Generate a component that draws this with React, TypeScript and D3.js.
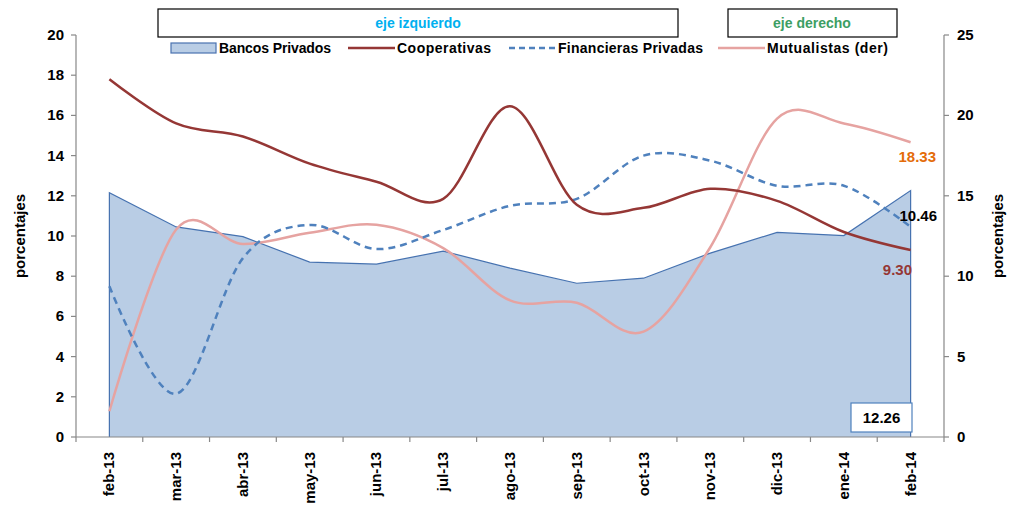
import React from "react";
import * as d3 from "d3";

const categories = ["feb-13","mar-13","abr-13","may-13","jun-13","jul-13","ago-13","sep-13","oct-13","nov-13","dic-13","ene-14","feb-14"];
const bancos = [12.15,10.45,9.97,8.7,8.6,9.25,8.4,7.65,7.9,9.15,10.18,10.02,12.26];
const cooperativas = [17.8,15.6,14.95,13.6,12.7,11.85,16.45,11.55,11.4,12.35,11.75,10.2,9.30];
const financieras = [7.5,2.15,8.9,10.55,9.35,10.3,11.5,11.85,14.0,13.75,12.5,12.5,10.46];
const mutualistas = [1.6,12.9,12.0,12.7,13.2,11.75,8.5,8.35,6.55,11.8,19.8,19.5,18.33];
const leftTicks = [0,2,4,6,8,10,12,14,16,18,20];
const rightTicks = [0,5,10,15,20,25];

const FONT = "'Liberation Sans', Arial, sans-serif";

export default function App() {
  const W = 1009, H = 511;
  const x0 = 76, x1 = 944, top = 35, bottom = 437;
  const x = d3.scaleBand().domain(categories).range([x0, x1]);
  const cx = (i: number) => (x(categories[i]) as number) + x.bandwidth() / 2;
  const yL = d3.scaleLinear().domain([0, 20]).range([bottom, top]);
  const yR = d3.scaleLinear().domain([0, 25]).range([bottom, top]);

  const area = d3.area<number>().x((_, i) => cx(i)).y0(yL(0)).y1((d) => yL(d));
  const areaTop = d3.line<number>().x((_, i) => cx(i)).y((d) => yL(d));
  const lineL = d3.line<number>().x((_, i) => cx(i)).y((d) => yL(d)).curve(d3.curveCardinal.tension(0));
  const lineR = d3.line<number>().x((_, i) => cx(i)).y((d) => yR(d)).curve(d3.curveCardinal.tension(0));

  const n = categories.length - 1;
  const areaPath = area(bancos) as string;
  const outline = `M${cx(0)},${yL(0)}L${(areaTop(bancos) as string).slice(1)}L${cx(n)},${yL(0)}`;

  const boundaries = d3.range(categories.length + 1).map((i) => x0 + i * x.bandwidth());

  return (
    <svg width={W} height={H} style={{ position: "absolute", left: 0, top: 0, background: "#fff" }} fontFamily={FONT}>
      {/* header boxes */}
      <rect x={158} y={9} width={520} height={28} fill="#fff" stroke="#000" strokeWidth={1.2} />
      <text x={418} y={28} textAnchor="middle" fontSize={14} fontWeight="bold" fill="#00b0f0">eje izquierdo</text>
      <rect x={728} y={9} width={169} height={28} fill="#fff" stroke="#000" strokeWidth={1.2} />
      <text x={812} y={28} textAnchor="middle" fontSize={14} fontWeight="bold" fill="#3c9e63">eje derecho</text>

      {/* legend */}
      <g fontSize={14} fontWeight="bold" fill="#000">
        <rect x={171} y={43} width={45} height={10} fill="#b9cde5" stroke="#4a72b0" strokeWidth={1.2} />
        <text x={219} y={53} textLength={112}>Bancos Privados</text>
        <line x1={348} x2={395} y1={48} y2={48} stroke="#953735" strokeWidth={2.5} />
        <text x={397} y={53} textLength={94}>Cooperativas</text>
        <line x1={509} x2={556} y1={48} y2={48} stroke="#4f81bd" strokeWidth={2.5} strokeDasharray="6,4" />
        <text x={558} y={53} textLength={145}>Financieras Privadas</text>
        <line x1={718} x2={765} y1={48} y2={48} stroke="#e6a3a1" strokeWidth={2.5} />
        <text x={767} y={53} textLength={121}>Mutualistas (der)</text>
      </g>

      {/* area */}
      <path d={areaPath} fill="#b9cde5" />
      <path d={outline} fill="none" stroke="#4672b0" strokeWidth={1.2} />

      {/* lines */}
      <path d={lineR(mutualistas) as string} fill="none" stroke="#e6a3a1" strokeWidth={2.5} />
      <path d={lineL(financieras) as string} fill="none" stroke="#4f81bd" strokeWidth={2.5} strokeDasharray="7,5" />
      <path d={lineL(cooperativas) as string} fill="none" stroke="#953735" strokeWidth={2.5} />

      {/* axes */}
      <g stroke="#888" strokeWidth={1.2}>
        <line x1={x0} x2={x0} y1={top} y2={bottom} />
        {leftTicks.map((t) => <line key={t} x1={x0 - 5} x2={x0} y1={yL(t)} y2={yL(t)} />)}
        <line x1={x1} x2={x1} y1={top} y2={bottom} />
        {rightTicks.map((t) => <line key={t} x1={x1} x2={x1 + 5} y1={yR(t)} y2={yR(t)} />)}
        <line x1={x0} x2={x1} y1={bottom} y2={bottom} />
        {boundaries.map((b, i) => <line key={i} x1={b} x2={b} y1={bottom} y2={bottom + 5} />)}
      </g>
      <g fontSize={15} fontWeight="bold" fill="#000">
        {leftTicks.map((t) => (
          <text key={t} x={x0 - 12} y={yL(t) + 5} textAnchor="end">{t}</text>
        ))}
        {rightTicks.map((t) => (
          <text key={t} x={x1 + 13} y={yR(t) + 5} textAnchor="start">{t}</text>
        ))}
        {categories.map((c, i) => (
          <text key={c} transform={`translate(${cx(i) + 5},452) rotate(-90)`} textAnchor="end">{c}</text>
        ))}
        <text transform={`translate(25,236) rotate(-90)`} textAnchor="middle">porcentajes</text>
        <text transform={`translate(1003,236) rotate(-90)`} textAnchor="middle">porcentajes</text>
      </g>

      {/* data labels */}
      <g fontSize={15} fontWeight="bold">
        <text x={936} y={162} textAnchor="end" fill="#e46c0a">{mutualistas[n].toFixed(2)}</text>
        <text x={937} y={221} textAnchor="end" fill="#000">{financieras[n].toFixed(2)}</text>
        <text x={912} y={275} textAnchor="end" fill="#953735">{cooperativas[n].toFixed(2)}</text>
        <rect x={851} y={403} width={61} height={29} fill="#fff" stroke="#4f81bd" strokeWidth={1.2} />
        <text x={881.5} y={423} textAnchor="middle" fill="#000">{bancos[n].toFixed(2)}</text>
      </g>
    </svg>
  );
}
